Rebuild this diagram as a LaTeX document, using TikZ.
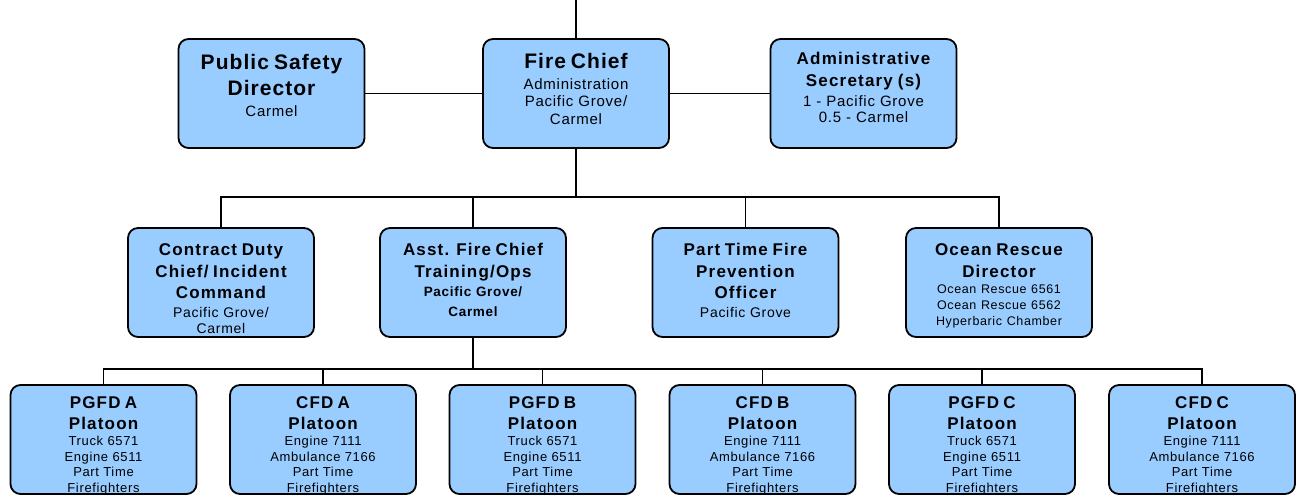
\documentclass[tikz,border=0pt]{standalone}
\usepackage{fontspec}
\setmainfont{Liberation Sans}
\newfontfamily\airyFont[LetterSpace=5]{Liberation Sans}
\newfontfamily\wideFont[LetterSpace=7]{Liberation Sans}
\usepackage{tikz}
\usetikzlibrary{positioning}

\definecolor{boxBlue}{RGB}{153,204,255}

\newcommand{\topTitle}[1]{{\bfseries\fontsize{21}{26}\selectfont #1\par}\vspace{3pt}}
\newcommand{\midTitle}[2][0pt]{{\wideFont\bfseries\fontsize{17}{21.5}\selectfont #2\par}\vspace{#1}}

\tikzstyle{blueBox} = [
    rectangle,
    draw,
    fill=boxBlue,
    text width=178pt,
    text centered,
    rounded corners=10pt,
    minimum width=186pt,
    minimum height=109pt,
    inner sep=2pt,
    line width=1.8pt
    ]
\tikzstyle{topBox} = [
    blueBox,
    font=\airyFont\fontsize{15}{17.5}\selectfont,
    text height=29pt,
    text depth=76pt
    ]
\tikzstyle{midBox} = [
    blueBox,
    font=\airyFont\fontsize{14}{16}\selectfont,
    text height=25pt,
    text depth=79pt
    ]
\tikzstyle{lowBox} = [
    blueBox,
    font=\airyFont\fontsize{13}{15.8}\selectfont,
    text height=21pt,
    text depth=84pt
    ]
\tikzstyle{wire} = [
    line width=1.5pt
    ]

\begin{document}
\begin{tikzpicture}[x=1pt, y=-1pt]
      \useasboundingbox (0,0) rectangle (1298,497);
      % top row
      \node[topBox] at (271.5,93.5) (psd) {\topTitle{Public Safety\\Director}Carmel};
      \node[topBox, text height=28pt, text depth=77pt] at (576,93.5) (fc) {\topTitle{Fire Chief}Administration\\Pacific Grove/\\Carmel};
      \node[topBox, text height=24pt, text depth=81pt] at (863.5,93.5) (adm) {\midTitle[4pt]{Administrative\\Secretary (s)}{\fontsize{15}{16}\selectfont 1 - Pacific Grove\\0.5 - Carmel\par}};
      % middle row
      \node[midBox] at (221,282.5) (ctd) {\midTitle[3pt]{Contract Duty\\Chief/ Incident\\Command}Pacific Grove/\\Carmel};
      \node[midBox] at (473,282.5) (asst) {\midTitle{Asst. Fire Chief\\Training/Ops}{\bfseries\fontsize{13.5}{19.5}\selectfont Pacific Grove/\\Carmel\par}};
      \node[midBox] at (745.5,282.5) (ptfp) {\midTitle[3pt]{Part Time Fire\\Prevention\\Officer}Pacific Grove};
      \node[midBox] at (999,282.5) (ord) {\midTitle{Ocean Rescue\\Director}{\fontsize{12.5}{16}\selectfont Ocean Rescue 6561\\Ocean Rescue 6562\\Hyperbaric Chamber\par}};
      % platoons
      \node[lowBox] at (103.5,439.5) (pa) {\midTitle{PGFD A\\Platoon}Truck 6571\\Engine 6511\\Part Time\\Firefighters};
      \node[lowBox] at (323,439.5) (ca) {\midTitle{CFD A\\Platoon}Engine 7111\\Ambulance 7166\\Part Time\\Firefighters};
      \node[lowBox] at (542.5,439.5) (pb) {\midTitle{PGFD B\\Platoon}Truck 6571\\Engine 6511\\Part Time\\Firefighters};
      \node[lowBox] at (762.5,439.5) (cb) {\midTitle{CFD B\\Platoon}Engine 7111\\Ambulance 7166\\Part Time\\Firefighters};
      \node[lowBox] at (982,439.5) (pc) {\midTitle{PGFD C\\Platoon}Truck 6571\\Engine 6511\\Part Time\\Firefighters};
      \node[lowBox] at (1202,439.5) (cc) {\midTitle{CFD C\\Platoon}Engine 7111\\Ambulance 7166\\Part Time\\Firefighters};
      % lines
      \draw[wire] (fc.north) -- (fc.north |- 0,0);
      \draw[wire] (fc.west) -- (psd.east);
      \draw[wire] (fc.east) -- (adm.west);
      \draw[wire] (fc.south) -- ++(0,48) coordinate (busTop);
      \draw[wire] (ctd.north) |- (busTop) -| (ord.north);
      \foreach \n in {asst,ptfp}
        \draw[wire] (\n.north) -- (\n.north |- busTop);
      \draw[wire] (asst.south) -- ++(0,31) coordinate (busLow);
      \draw[wire] (pa.north) |- (busLow) -| (cc.north);
      \foreach \n in {ca,pb,cb,pc}
        \draw[wire] (\n.north) -- (\n.north |- busLow);
    \end{tikzpicture}
\end{document}
